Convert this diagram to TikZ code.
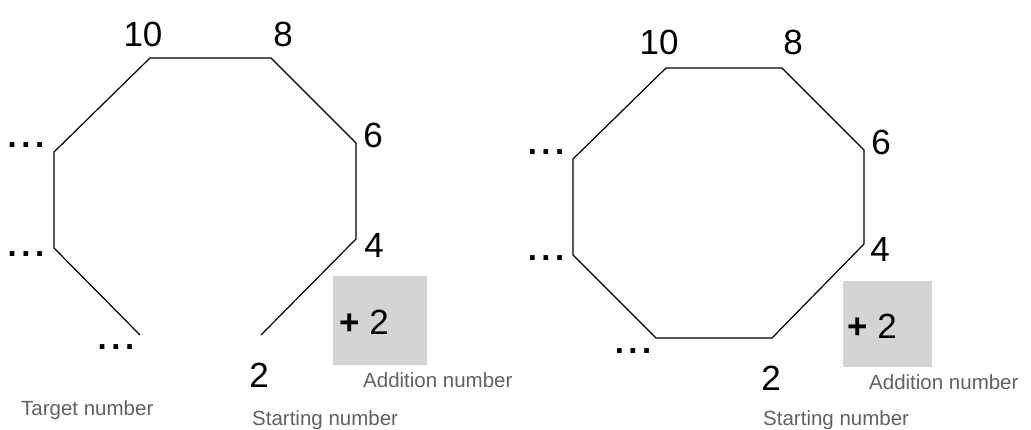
\documentclass[tikz,border=0pt]{standalone}
\usepackage{fontspec}
\setmainfont{Liberation Sans}
\definecolor{captiongray}{HTML}{616161}
\definecolor{boxgray}{HTML}{D4D4D4}
\newcommand{\spaceddots}{.\kern4.5pt.\kern4.5pt.}
\begin{document}
\begin{tikzpicture}[x=1pt,y=-1pt,
  edge/.style={line width=1.2pt,black},
  numlabel/.style={anchor=base,inner sep=0pt,font=\fontsize{35}{40}\selectfont},
  dotslabel/.style={anchor=base,inner sep=0pt,font=\fontsize{33}{40}\selectfont\bfseries},
  caption/.style={anchor=base west,inner sep=0pt,text=captiongray,font=\fontsize{20.5}{24}\selectfont},
  addbox/.style={fill=boxgray,draw=none,inner sep=0pt}]
\useasboundingbox (0,0) rectangle (1031,430);

% ---------- open chain (left) ----------
\coordinate (La) at (140,335);
\coordinate (Lb) at (54,248);
\coordinate (Lc) at (54,152);
\coordinate (Ld) at (150,58);
\coordinate (Le) at (271,58);
\coordinate (Lf) at (356,143);
\coordinate (Lg) at (356,239);
\coordinate (Lh) at (261,335);
\draw[edge] (La) -- (Lb) -- (Lc) -- (Ld) -- (Le) -- (Lf) -- (Lg) -- (Lh);

\node[numlabel] (l10) at (143,47) {10};
\node[numlabel] (l8) at (283,47) {8};
\node[numlabel] (l6) at (373,148) {6};
\node[numlabel] (l4) at (374,258) {4};
\node[numlabel] (l2) at (259,388) {2};
\node[dotslabel] (ldotsA) at (26,148) {\spaceddots};
\node[dotslabel] (ldotsB) at (26,257) {\spaceddots};
\node[dotslabel] (ldotsC) at (116,350) {\spaceddots};

\path[addbox] (333,276) rectangle (427,365);
\node[numlabel] (lplus) at (364,335) {{\bfseries+} 2};

\node[caption] (ltarget) at (21,415) {Target number};
\node[caption] (lstart) at (252,425) {Starting number};
\node[caption] (ladd) at (363,387) {Addition number};

% ---------- closed octagon (right) ----------
\coordinate (Ra) at (656,338);
\coordinate (Rb) at (573,255);
\coordinate (Rc) at (573,159);
\coordinate (Rd) at (666,68);
\coordinate (Re) at (782,68);
\coordinate (Rf) at (864,150);
\coordinate (Rg) at (864,244);
\coordinate (Rh) at (772,338);
\draw[edge] (Ra) -- (Rb) -- (Rc) -- (Rd) -- (Re) -- (Rf) -- (Rg) -- (Rh) -- cycle;

\node[numlabel] (r10) at (659,55) {10};
\node[numlabel] (r8) at (793,55) {8};
\node[numlabel] (r6) at (881,155) {6};
\node[numlabel] (r4) at (880,262) {4};
\node[numlabel] (r2) at (771,390) {2};
\node[dotslabel] (rdotsA) at (546,155) {\spaceddots};
\node[dotslabel] (rdotsB) at (546,261) {\spaceddots};
\node[dotslabel] (rdotsC) at (633,353) {\spaceddots};

\path[addbox] (843,281) rectangle (932,367);
\node[numlabel] (rplus) at (872,338) {{\bfseries+} 2};

\node[caption] (rstart) at (763,425) {Starting number};
\node[caption] (radd) at (869,389) {Addition number};
\end{tikzpicture}
\end{document}
